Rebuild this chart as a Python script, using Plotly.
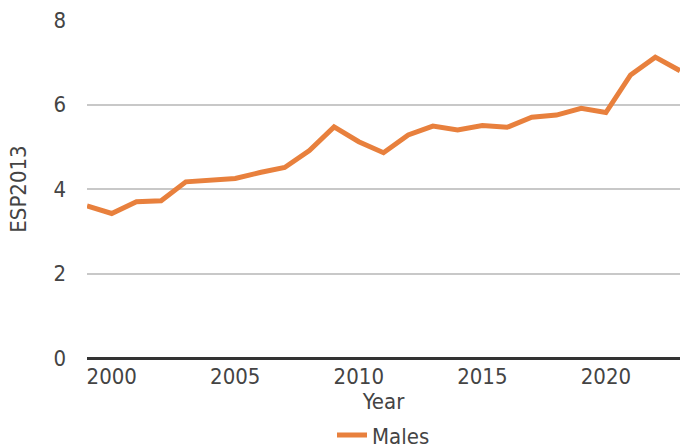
import plotly.graph_objects as go

years = list(range(1999, 2024))
males = [3.60, 3.42, 3.70, 3.72, 4.17, 4.20, 4.25, 4.39, 4.51, 4.91, 5.47, 5.12,
         4.86, 5.28, 5.49, 5.40, 5.50, 5.46, 5.70, 5.75, 5.91, 5.81, 6.70, 7.12, 6.80]
y_ticks = [0, 2, 4, 6, 8]
x_ticks = [2000, 2005, 2010, 2015, 2020]

FONT = "DejaVu Sans Condensed, DejaVu Sans"
TXT = "#444444"
FS = 22

fig = go.Figure()
fig.add_trace(go.Scatter(x=years, y=males, mode="lines", name="Males",
                         line=dict(color="#E8803D", width=5)))

fig.update_layout(
    width=680, height=446,
    margin=dict(l=87, r=0, t=20, b=88),
    paper_bgcolor="white", plot_bgcolor="white",
    font=dict(family=FONT, size=FS, color=TXT),
    showlegend=True,
    legend=dict(orientation="h", x=0.5, xanchor="center", yref="container", y=0.024, yanchor="middle",
                font=dict(size=FS, color=TXT)),
    xaxis=dict(range=[1999, 2023], tickvals=x_ticks, ticktext=[str(v) for v in x_ticks],
               showgrid=False, zeroline=False, showline=False, automargin=False,
               ticklabelstandoff=3,
               title=dict(text="Year", standoff=6, font=dict(size=FS, color=TXT)),
               tickfont=dict(size=FS, color=TXT)),
    yaxis=dict(range=[0, 8], tickvals=y_ticks, showgrid=True, gridcolor="#C8C8C8", gridwidth=2,
               zeroline=True, zerolinecolor="#333333", zerolinewidth=3, showline=False,
               ticklabelstandoff=20, automargin=False,
               title=dict(text="ESP2013", standoff=20, font=dict(size=FS, color=TXT)),
               tickfont=dict(size=FS, color=TXT)),
)

fig.write_html("out.html", config={"displayModeBar": False},
               post_script="document.body.style.margin='0';document.body.style.overflow='hidden';")
